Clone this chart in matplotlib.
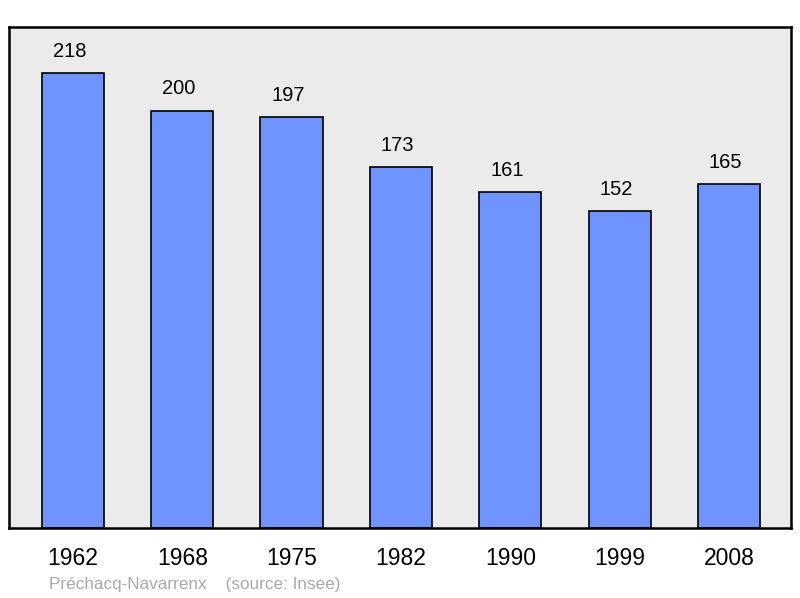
import matplotlib
matplotlib.use("Agg")
import matplotlib.pyplot as plt
import numpy as np

plt.rcParams['font.family'] = ['Liberation Sans', 'DejaVu Sans']

# population data
years = ["1962", "1968", "1975", "1982", "1990", "1999", "2008"]
population = [218, 200, 197, 173, 161, 152, 165]

fig = plt.figure(figsize=(8, 5.98), dpi=100)
ax = fig.add_axes([9 / 800, 1 - 528 / 598, 782 / 800, 501 / 598])
ax.set_facecolor("#ebebeb")

x = np.arange(len(years))
ax.bar(x, population, width=0.57, color="#7094ff", edgecolor="black", linewidth=1.2, zorder=2)

for xi, val in zip(x, population):
    ax.annotate(str(val), (xi, val), xytext=(-2.5, 15.5), textcoords="offset points",
                ha="center", va="center", fontsize=14.5)

ax.set_xlim(-0.585, 6.567)
ax.set_ylim(0, 240)
ax.set_yticks([])
ax.set_xticks(x)
ax.set_xticklabels(years, fontsize=16.5)
ax.tick_params(axis="x", length=0, pad=13.5)

for s in ax.spines.values():
    s.set_linewidth(1.8)
    s.set_color("black")

fig.text(49 / 800, 1 - 584 / 598, "Préchacq-Navarrenx    (source: Insee)",
         fontsize=12.3, color="#aaaaaa", va="center", ha="left")

fig.savefig("out.png", dpi=100)
